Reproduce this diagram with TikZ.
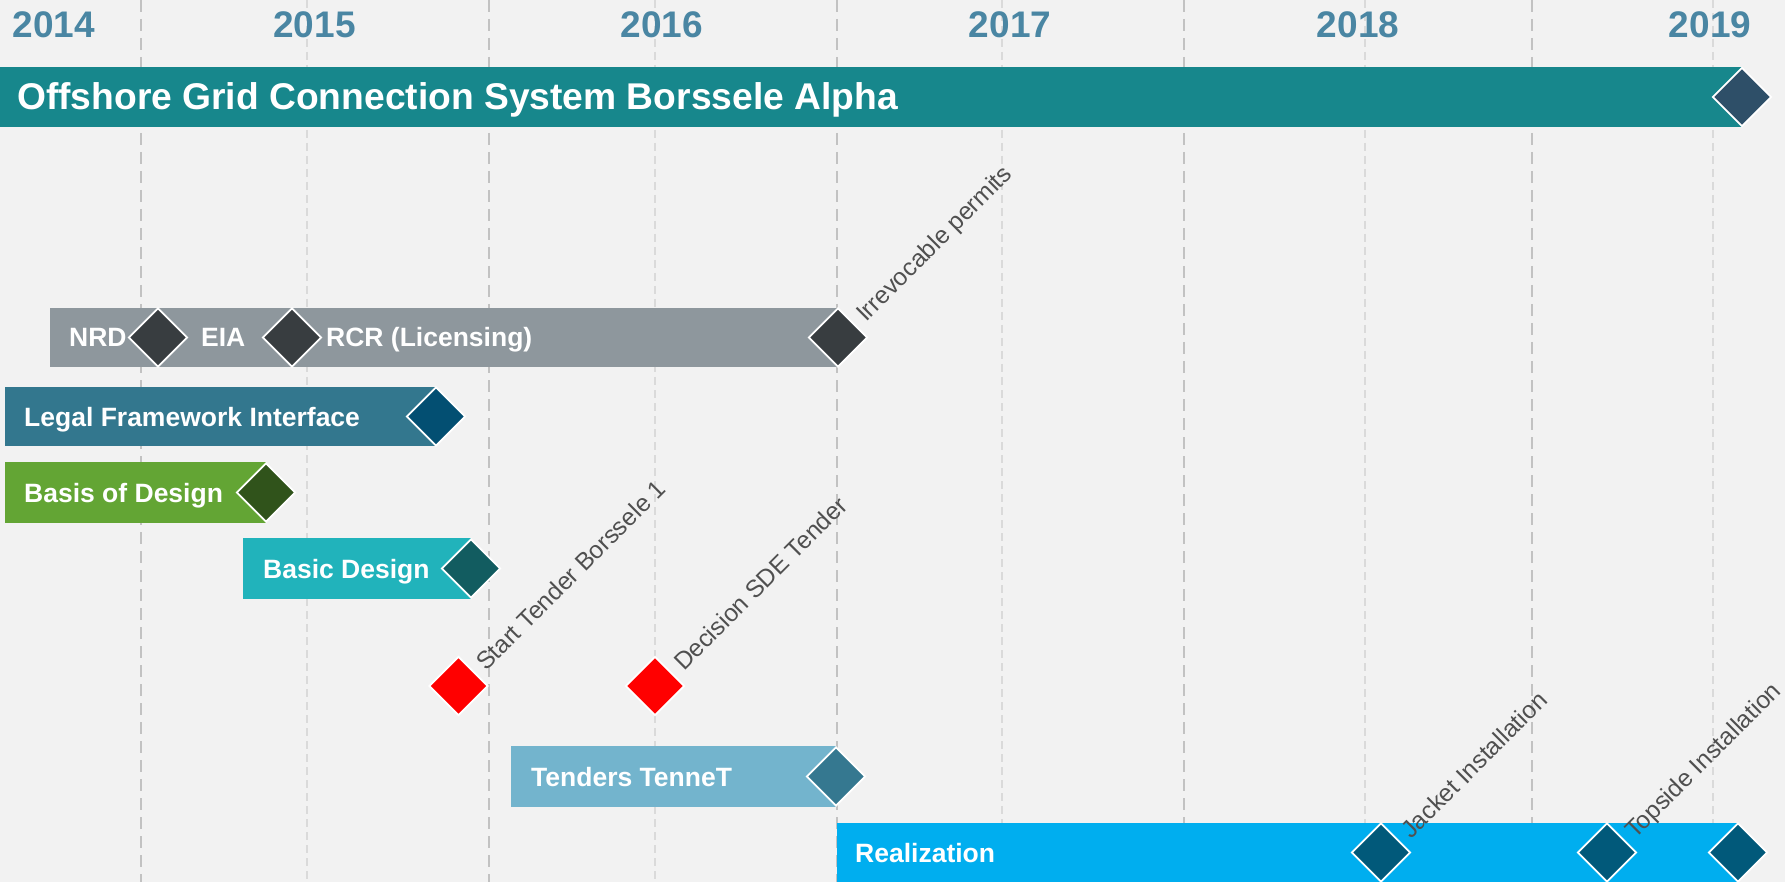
\documentclass[tikz,border=0pt]{standalone}
\usepackage{fontspec}
\setmainfont{Liberation Sans}
\usetikzlibrary{shapes.geometric}
\definecolor{bgc}{HTML}{F2F2F2}
\definecolor{yearc}{HTML}{4A86A3}
\definecolor{majc}{HTML}{C2C2C2}
\definecolor{minc}{HTML}{DADADA}
\definecolor{labc}{HTML}{505050}
\definecolor{mainbar}{HTML}{17878C}
\definecolor{maindia}{HTML}{2E4F68}
\definecolor{graybar}{HTML}{8E979D}
\definecolor{graydia}{HTML}{383D40}
\definecolor{legalbar}{HTML}{33778E}
\definecolor{legaldia}{HTML}{034F72}
\definecolor{basisbar}{HTML}{63A534}
\definecolor{basisdia}{HTML}{30531B}
\definecolor{basicbar}{HTML}{21B3BB}
\definecolor{basicdia}{HTML}{125C60}
\definecolor{redc}{HTML}{FF0000}
\definecolor{tendbar}{HTML}{73B4CD}
\definecolor{tenddia}{HTML}{357890}
\definecolor{realbar}{HTML}{00AEEF}
\definecolor{realdia}{HTML}{01597A}
\begin{document}
\begin{tikzpicture}[x=1pt,y=-1pt,
  bar/.style={rectangle, inner sep=0pt, outer sep=0pt, anchor=north west},
  ms/.style={diamond, inner sep=0pt, minimum width=59pt, minimum height=59pt, draw=white, line width=1.8pt},
  bartext/.style={anchor=base west, text=white, font=\fontsize{26.5}{30}\selectfont\bfseries, inner sep=0pt},
  titletext/.style={anchor=base west, text=white, font=\fontsize{37.2}{40}\selectfont\bfseries, inner sep=0pt},
  year/.style={anchor=base, text=yearc, font=\fontsize{37}{40}\selectfont\bfseries, inner sep=0pt},
  mlabel/.style={anchor=base west, rotate=45, text=labc, font=\fontsize{24.5}{28}\selectfont, inner sep=0pt},
  major/.style={draw=majc, line width=2.5pt, dash pattern=on 12pt off 7pt},
  minor/.style={draw=minc, line width=1.5pt, dash pattern=on 8pt off 5pt}]
\useasboundingbox (0,0) rectangle (1785,882);
\fill[bgc] (0,0) rectangle (1785,882);
% grid
\foreach \gx in {307,655,1002,1365,1713} \draw[minor] (\gx,0) -- (\gx,882);
\foreach \gx in {141,489,837,1184,1532} \draw[major] (\gx,0) -- (\gx,882);
% years
\node[year] (y14) at (54,38) {2014};
\node[year] (y15) at (314.5,38) {2015};
\node[year] (y16) at (662,38) {2016};
\node[year] (y17) at (1010,38) {2017};
\node[year] (y18) at (1358,38) {2018};
\node[year] (y19) at (1710,38) {2019};
% bars
\node[bar, fill=mainbar, minimum width=1742pt, minimum height=60pt] (main) at (0,67) {};
\node[bar, fill=graybar, minimum width=788pt, minimum height=59pt] (lic) at (50,308) {};
\node[bar, fill=legalbar, minimum width=431pt, minimum height=59pt] (legal) at (5,387) {};
\node[bar, fill=basisbar, minimum width=261pt, minimum height=61pt] (basis) at (5,462) {};
\node[bar, fill=basicbar, minimum width=228pt, minimum height=61pt] (basic) at (243,538) {};
\node[bar, fill=tendbar, minimum width=325pt, minimum height=61pt] (tend) at (511,746) {};
\node[bar, fill=realbar, minimum width=900pt, minimum height=60pt] (real) at (837,823) {};
% diamonds
\node[ms, fill=maindia] (dmain) at (1742,97) {};
\node[ms, fill=graydia] (dnrd) at (158,337.5) {};
\node[ms, fill=graydia] (deia) at (292,337.5) {};
\node[ms, fill=graydia] (dirr) at (838,337.5) {};
\node[ms, fill=legaldia] (dlegal) at (436,416.5) {};
\node[ms, fill=basisdia] (dbasis) at (266,492.5) {};
\node[ms, fill=basicdia] (dbasic) at (471,568.5) {};
\node[ms, fill=redc] (dstart) at (458.5,686) {};
\node[ms, fill=redc] (ddec) at (655,686) {};
\node[ms, fill=tenddia] (dtend) at (836,776.5) {};
\node[ms, fill=realdia] (djack) at (1381,852.5) {};
\node[ms, fill=realdia] (dtop) at (1607,852.5) {};
\node[ms, fill=realdia] (dend) at (1738,852.5) {};
% bar texts
\node[titletext] (tmain) at (17,110) {Offshore Grid Connection System Borssele Alpha};
\node[bartext] (tnrd) at (69,347) {NRD};
\node[bartext] (teia) at (201,347) {EIA};
\node[bartext] (trcr) at (326,347) {RCR (Licensing)};
\node[bartext] (tlegal) at (24,426) {Legal Framework Interface};
\node[bartext] (tbasis) at (24,502.5) {Basis of Design};
\node[bartext] (tbasic) at (263,578) {Basic Design};
\node[bartext] (ttend) at (531,786) {Tenders TenneT};
\node[bartext] (treal) at (855,862) {Realization};
% milestone labels
\node[mlabel] (lirr) at (866,323) {Irrevocable permits};
\node[mlabel] (lstart) at (486,672) {Start Tender Borssele 1};
\node[mlabel] (ldec) at (684,672) {Decision SDE Tender};
\node[mlabel] (ljack) at (1411,840) {Jacket Installation};
\node[mlabel] (ltop) at (1635,840) {Topside Installation};
\end{tikzpicture}
\end{document}
